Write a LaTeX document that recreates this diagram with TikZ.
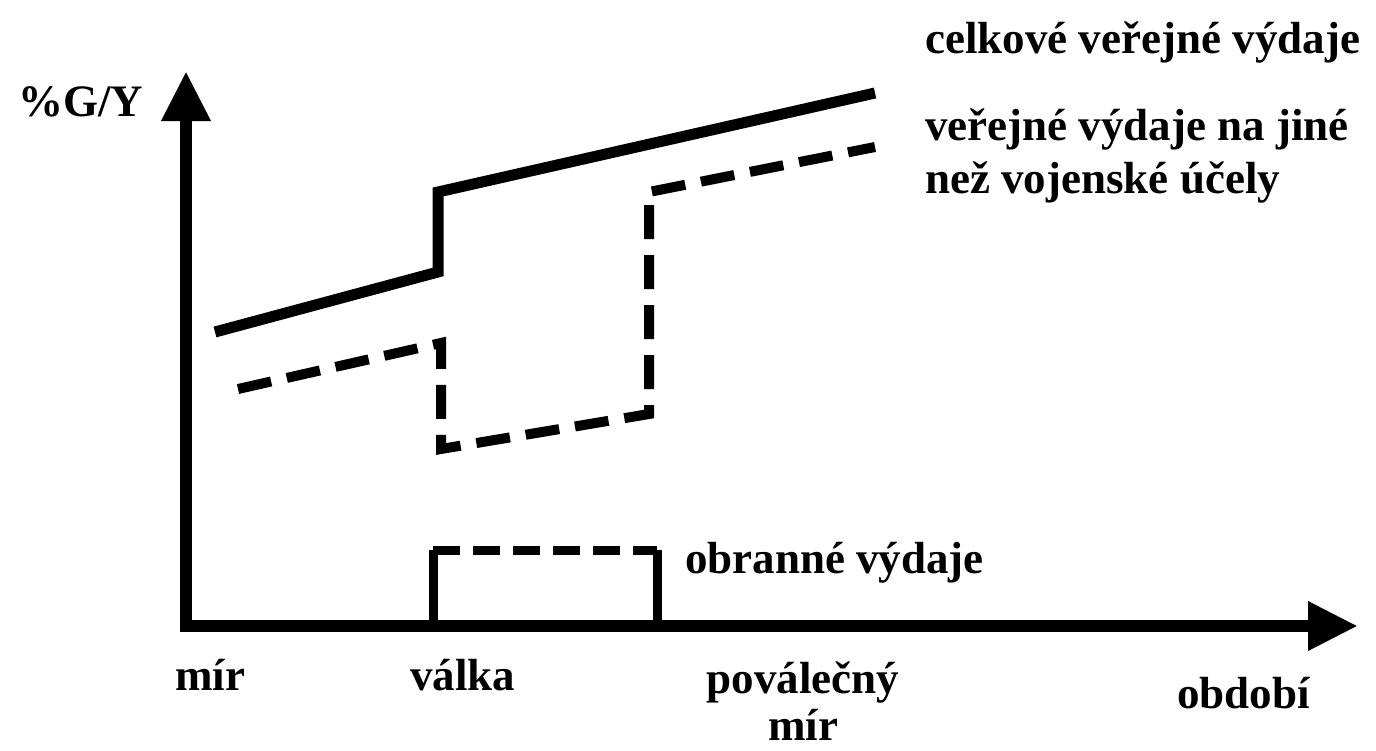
\documentclass[tikz,border=0pt]{standalone}
\usepackage{fontspec}
\setmainfont{Liberation Serif}
\usetikzlibrary{arrows.meta}

\begin{document}
\begin{tikzpicture}[x=1pt, y=-1pt,
		axis/.style={line width=12.5pt, -{Triangle[width=46pt, length=50pt]}},
		total/.style={line width=11pt, line join=miter},
		civil/.style={line width=10pt, dash pattern=on 34pt off 16pt},
		defence/.style={line width=9pt},
		lbl/.style={font=\fontsize{45}{53}\selectfont\bfseries, inner sep=0pt}]
			%%%%% START %%%%%
			\useasboundingbox (0,0) rectangle (1376,750);
			
			% axes
			\draw[axis] (186,632) -- (186,71);
			\draw[axis] (180,626) -- (1358,626);
			\node[lbl, anchor=base west] (gy) at (18,116) {\%G/Y};
			\node[lbl, anchor=base west] (period) at (1177,708) {období};
			
			% total spending
			\draw[total] (215,332) -- (438,272) -- (438,192) -- (875,93);
			\node[lbl, anchor=base west] (totallbl) at (925,53) {celkové veřejné výdaje};
			
			% non-military spending
			\draw[civil] (238,389) -- (441,343) -- (441,449) -- (649,414) -- (649,192) -- (875,147);
			\node[lbl, anchor=base west] (civil1) at (925,140) {veřejné výdaje na jiné};
			\node[lbl, anchor=base west] (civil2) at (925,193) {než vojenské účely};
			
			% defence spending
			\draw[defence] (433,622) -- (433,550);
			\draw[defence, dash pattern=on 27pt off 13pt] (433,550) -- (657,550);
			\draw[defence] (657,550) -- (657,622);
			\node[lbl, anchor=base west] (deflbl) at (685,573) {obranné výdaje};
			
			% periods
			\node[lbl, anchor=base west] (peace) at (175,690) {mír};
			\node[lbl, anchor=base west] (war) at (410,690) {válka};
			\node[lbl, anchor=base] (postwar1) at (803,693) {poválečný};
			\node[lbl, anchor=base] (postwar2) at (803,740) {mír};
			
			%%%%% END %%%%%
\end{tikzpicture}
\end{document}
